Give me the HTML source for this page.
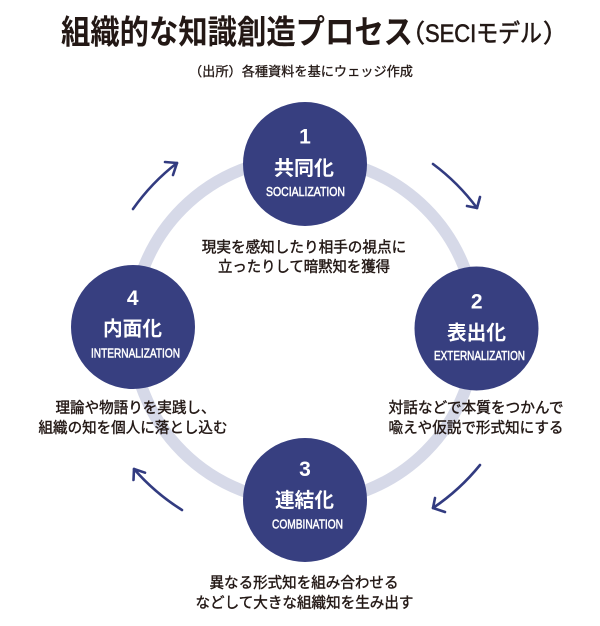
<!DOCTYPE html>
<html lang="ja">
<head>
<meta charset="utf-8">
<style>
html,body{margin:0;padding:0;background:#fff;}
body{width:600px;height:626px;overflow:hidden;}
svg{display:block;}
.jp{font-family:"Liberation Sans","Noto Sans CJK JP",sans-serif;}
.desc{font-family:"Liberation Sans","Noto Sans CJK JP",sans-serif;font-size:15px;fill:#231815;stroke:#231815;stroke-width:0.4px;}
.num{font-family:"Liberation Sans",sans-serif;font-weight:700;font-size:21px;fill:#fff;}
.kan{font-family:"Liberation Sans","Noto Sans CJK JP",sans-serif;font-weight:700;font-size:20px;fill:#fff;}
.en{font-family:"Liberation Sans",sans-serif;font-size:13px;fill:#fff;stroke:#fff;stroke-width:0.5px;}
.arr{fill:none;stroke:#323b80;stroke-width:2.6;stroke-linecap:round;stroke-linejoin:round;}
</style>
</head>
<body>
<svg width="600" height="626" viewBox="0 0 600 626" xmlns="http://www.w3.org/2000/svg">
  <!-- Title -->
  <text class="jp" x="61" y="43.5" font-size="33" font-weight="700" fill="#231815" textLength="352" lengthAdjust="spacingAndGlyphs">組織的な知識創造プロセス</text>
  <text class="jp" x="400" y="42" font-size="25" fill="#231815" stroke="#231815" stroke-width="0.6">（</text>
  <text class="jp" x="425" y="42" font-size="25" fill="#231815" stroke="#231815" stroke-width="0.6" textLength="117" lengthAdjust="spacingAndGlyphs">SECIモデル</text>
  <text class="jp" x="543" y="42" font-size="25" fill="#231815" stroke="#231815" stroke-width="0.6">）</text>

  <!-- Subtitle -->
  <text class="jp" x="189" y="76" font-size="13" fill="#231815" stroke="#231815" stroke-width="0.3" textLength="224" lengthAdjust="spacingAndGlyphs">（出所）各種資料を基にウェッジ作成</text>

  <!-- Ring -->
  <circle cx="304" cy="330" r="172" fill="none" stroke="#d6d9e8" stroke-width="12"/>

  <!-- Arrows -->
  <path class="arr" d="M133,209 A213,213 0 0 1 177,163"/>
  <path class="arr" d="M165,162 L177,163 L173,175"/>
  <path class="arr" d="M433,164 A213,213 0 0 1 477,208"/>
  <path class="arr" d="M467,206 L477,208 L480,197"/>
  <path class="arr" d="M480,465 A215,215 0 0 1 433,508"/>
  <path class="arr" d="M435,498 L433,508 L445,512"/>
  <path class="arr" d="M182,510 A215,215 0 0 1 134,469"/>
  <path class="arr" d="M145,472.7 L134,469 L133.5,480"/>

  <!-- Circles -->
  <circle cx="305" cy="164" r="62" fill="#373f80"/>
  <circle cx="476.5" cy="328.5" r="62" fill="#373f80"/>
  <circle cx="305" cy="500" r="62" fill="#373f80"/>
  <circle cx="133" cy="327" r="62" fill="#373f80"/>

  <!-- Circle 1 -->
  <text class="num" x="305" y="143.5" text-anchor="middle">1</text>
  <text class="kan" x="304" y="175" text-anchor="middle" textLength="60" lengthAdjust="spacingAndGlyphs">共同化</text>
  <text class="en" x="305.5" y="196" text-anchor="middle" textLength="79" lengthAdjust="spacingAndGlyphs">SOCIALIZATION</text>

  <!-- Circle 2 -->
  <text class="num" x="476.7" y="308.5" text-anchor="middle">2</text>
  <text class="kan" x="476.5" y="339.5" text-anchor="middle" textLength="59" lengthAdjust="spacingAndGlyphs">表出化</text>
  <text class="en" x="479.5" y="360" text-anchor="middle" textLength="91" lengthAdjust="spacingAndGlyphs">EXTERNALIZATION</text>

  <!-- Circle 3 -->
  <text class="num" x="305" y="476" text-anchor="middle">3</text>
  <text class="kan" x="304.5" y="507" text-anchor="middle" textLength="59" lengthAdjust="spacingAndGlyphs">連結化</text>
  <text class="en" x="307.5" y="528.5" text-anchor="middle" textLength="71" lengthAdjust="spacingAndGlyphs">COMBINATION</text>

  <!-- Circle 4 -->
  <text class="num" x="132.7" y="305" text-anchor="middle">4</text>
  <text class="kan" x="132.5" y="335.5" text-anchor="middle" textLength="59" lengthAdjust="spacingAndGlyphs">内面化</text>
  <text class="en" x="135.5" y="357.5" text-anchor="middle" textLength="89" lengthAdjust="spacingAndGlyphs">INTERNALIZATION</text>

  <!-- Descriptions -->
  <text class="desc" x="304" y="252.2" text-anchor="middle" textLength="204.5" lengthAdjust="spacingAndGlyphs">現実を感知したり相手の視点に</text>
  <text class="desc" x="304" y="271.7" text-anchor="middle" textLength="172" lengthAdjust="spacingAndGlyphs">立ったりして暗黙知を獲得</text>

  <text class="desc" x="476" y="412.7" text-anchor="middle" textLength="175" lengthAdjust="spacingAndGlyphs">対話などで本質をつかんで</text>
  <text class="desc" x="476" y="432.7" text-anchor="middle" textLength="175" lengthAdjust="spacingAndGlyphs">喩えや仮説で形式知にする</text>

  <text class="desc" x="55.5" y="412.7" textLength="160" lengthAdjust="spacingAndGlyphs">理論や物語りを実践し、</text>
  <text class="desc" x="38.5" y="432.7" textLength="189" lengthAdjust="spacingAndGlyphs">組織の知を個人に落とし込む</text>

  <text class="desc" x="304" y="587.7" text-anchor="middle" textLength="189" lengthAdjust="spacingAndGlyphs">異なる形式知を組み合わせる</text>
  <text class="desc" x="304.5" y="607.7" text-anchor="middle" textLength="218" lengthAdjust="spacingAndGlyphs">などして大きな組織知を生み出す</text>
</svg>
</body>
</html>
